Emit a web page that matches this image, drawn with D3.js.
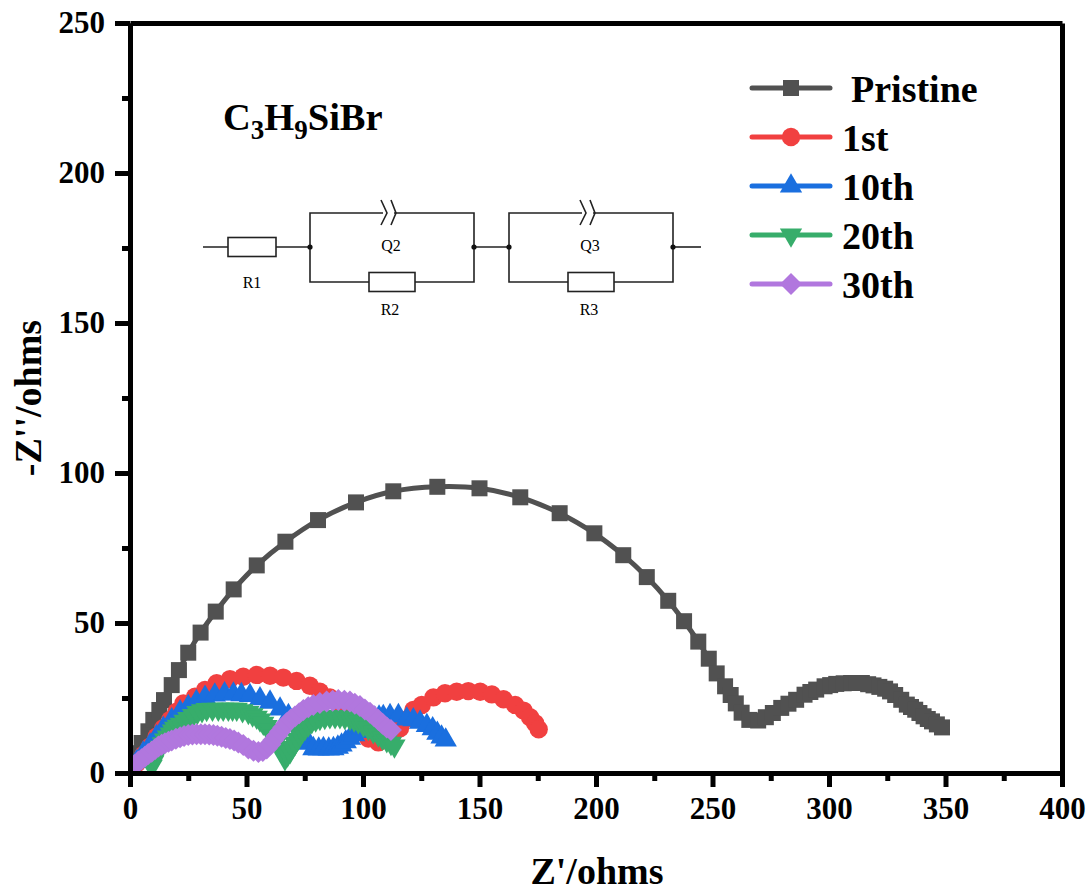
<!DOCTYPE html>
<html>
<head>
<meta charset="utf-8">
<script src="https://cdn.jsdelivr.net/npm/d3@7"></script>
<style>
  html, body { margin: 0; padding: 0; background: #fff; }
  svg { display: block; }
  text { font-family: "Liberation Serif", serif; font-weight: bold; fill: #000; }
</style>
</head>
<body>
<div id="chart"></div>
<script>
var xTicks = [0, 50, 100, 150, 200, 250, 300, 350, 400];
var xMinor = [25, 75, 125, 175, 225, 275, 325, 375];
var yTicks = [0, 50, 100, 150, 200, 250];
var yMinor = [25, 75, 125, 175, 225];

var seriesNames = ["Pristine", "1st", "10th", "20th", "30th"];
var seriesColors = ["#515151", "#F14040", "#1A6FDF", "#37AD6B", "#B177DE"];

var pristineX = [0, 1, 2.9, 5, 7.9, 10, 12.6, 14.6, 17.9, 21, 25, 30.3, 36.8, 44.5, 54.4, 66.7, 80.7, 97, 113, 131.9, 150, 167.5, 184.4, 199.3, 211.7, 221.8, 231,
  237.8, 243.9, 248.4, 251.8, 255.4, 257.8, 260, 262.5, 265.8, 269.6,
  272.9, 275.9, 279.5, 282.6, 285.9, 289.5, 292, 294.5, 298.1, 300.5,
  303.1, 306.3, 309.5, 312, 314.1, 316.8, 319.1, 321.6, 324.1, 326.2,
  328.4, 331, 333.4, 335.2, 337, 338.8, 340.6, 342.4, 344.2, 346.3,
  348.5];
var pristineY = [0.9, 3.3, 6.6, 10, 13.9, 17.7, 21, 24.3, 29.3, 34.3, 40.1, 46.8, 53.8, 61.2, 69.2, 77.1, 84.3, 90.2, 93.9, 95.4, 94.9, 91.9, 86.6, 79.9, 72.6, 65.3, 57.4,
  50.6, 43.8, 38.1, 33.2, 28.9, 26, 23.2, 20.1, 17.7, 17.5,
  18.6, 20, 21.7, 23.1, 24.4, 26.1, 27, 27.8, 28.9, 29.3,
  29.7, 29.9, 30, 30, 30, 29.6, 29.2, 28.7, 28.1, 27.2,
  26, 24.4, 22.8, 22, 21.1, 20, 18.9, 18, 17.2, 16.2,
  15.2];

var firstX = [0.7, 2.9, 5.7, 8.6, 11.4, 14.3, 17.2, 20, 22.9, 27.9, 32.2, 37.2, 42.9, 48.6, 54.4, 60.1, 65.8, 71.5, 77.2, 81.5, 85.8, 90.2, 94.5, 98.8, 102.3, 106.6, 111.6, 115.9, 119.5, 121.6, 125.2, 130.2, 135.2, 140.2, 145.2, 150.3, 155.3, 160.3, 165.3, 168.9, 171.7, 173.9, 175.4];
var firstY = [1, 3.2, 6, 8.8, 12.1, 14.9, 17.7, 20.4, 23.2, 25.4, 27.7, 29.9, 31.3, 32.1, 32.7, 32.4, 31.8, 30.7, 29.1, 27.1, 25.2, 22.7, 18.8, 14.5, 11.5, 10.2, 11.5, 14.9, 18.2, 21, 22.7, 25.2, 26.6, 27.1, 27.3, 27.1, 26.2, 24.6, 22.7, 20.8, 18.6, 16.6, 14.6];

var tenthX = [0.7, 2.9, 5.7, 8.6, 11.4, 14.3, 17.9, 21.5, 25, 28.5,
  32.2, 36.4, 40.6, 44.4, 47.8, 51.5, 55.8, 60.1, 64.4, 68,
  70.8, 73, 75.1, 76.5, 78.7, 81, 83, 85.3, 87.3, 89.2,
  90.8, 92.6, 94.4, 96.2, 98, 99.8, 101.6, 103.4, 105.1, 106.9,
  108.7, 111.6, 115.2, 118.8, 121.6, 124.5, 127.4, 129.9, 131.9, 133.7,
  135.5];
var tenthY = [1.6, 3.8, 6.6, 9.3, 12.1, 14.9, 17.7, 20.4, 22.1, 23.8,
  25.2, 26, 26.4, 26.3, 26.1, 25.8, 24.7, 23.6, 21.3, 19.1,
  16.6, 14.3, 12.1, 9.9, 8.1, 8, 8.1, 8, 8.1, 8.6,
  9.3, 10.4, 11.6, 12.7, 13.8, 14.9, 16, 17.2, 18.2, 18.6,
  18.8, 19.1, 19.1, 18, 17.7, 16.9, 15.8, 14.7, 13.2, 12,
  11];

var twentiethX = [9.3, 10, 10.7, 12, 13.2, 14.1, 15, 16.2, 17.5, 18.4,
  19.3, 20.5, 21.8, 23.4, 25, 27, 28.9, 30.9, 32.9, 35.4,
  37.9, 40, 42.2, 44, 45.8, 48.3, 50.8, 52.6, 54.4, 55.8,
  57.2, 58.6, 60.1, 61.5, 63, 64.7, 66.5, 67.6, 68.7, 69.7,
  70.8, 71.9, 73, 74, 75.1, 76.5, 78, 79.7, 81.5, 83.6,
  85.8, 88, 90.1, 92.2, 94.4, 96.2, 98, 100.2, 102.3, 104.4,
  106.6, 108.4, 110.2, 112, 113.5];
var twentiethY = [2.3, 3.7, 5.2, 6.9, 8.6, 9.8, 11, 12, 13, 14,
  14.9, 15.6, 16.3, 17.3, 18.2, 19.2, 20.2, 20.8, 21.2, 21.3,
  21.3, 21.3, 21.3, 21.3, 21.3, 20.8, 20.2, 19.4, 18.6, 17.7,
  16.6, 15.5, 14.3, 12.4, 10.4, 7.6, 4.8, 6, 7.1, 8.5,
  9.9, 11.3, 12.7, 13.9, 14.9, 16, 17.1, 17.7, 18.2, 18.5,
  18.8, 18.8, 18.8, 18.5, 18.2, 17.7, 17.1, 16, 14.9, 13.8,
  12.7, 11.6, 10.8, 9.9, 9];

var thirtiethX = [0.7, 2, 3.6, 5, 6.4, 7.8, 9.3, 10.8, 12.2, 13.6,
  15, 16.5, 17.9, 19.7, 21.5, 23.2, 25, 26.8, 28.6, 30.4,
  32.2, 34, 35.8, 37.5, 39.3, 41.1, 42.9, 44.7, 46.5, 48.6,
  50.8, 53, 55.1, 57, 58.7, 60.2, 61.5, 63, 64.4, 65.8,
  67.2, 69, 70.8, 72.6, 74.4, 76.5, 78.7, 81.5, 84.4, 87,
  89.4, 92, 94.4, 96.5, 98.7, 100.8, 103, 104.8, 106.6, 108.4,
  110.2, 112];
var thirtiethY = [1.6, 2.7, 3.8, 4.6, 5.4, 6.3, 7.1, 8, 8.8, 9.4,
  9.9, 10.4, 10.8, 11.4, 11.9, 12.3, 12.7, 12.8, 12.9, 12.9,
  12.9, 12.8, 12.7, 12.4, 12.1, 11.7, 11.3, 10.8, 10.2, 9.3,
  8.2, 7.4, 7, 7.3, 8.2, 9.5, 11, 12.4, 13.8, 15.2,
  16.6, 17.8, 18.8, 19.9, 21, 21.9, 22.7, 23.3, 23.8, 24.1,
  24.3, 24.1, 23.8, 23.1, 22.3, 21.2, 20.1, 18.9, 17.7, 16.4,
  15.2, 14.3];

var allX = [pristineX, firstX, tenthX, twentiethX, thirtiethX];
var allY = [pristineY, firstY, tenthY, twentiethY, thirtiethY];

var width = 1091, height = 892;
var left = 130, right = 1062, top_ = 23, bottom = 773;

var svg = d3.select("#chart").append("svg")
    .attr("width", width)
    .attr("height", height);

var x = d3.scaleLinear().domain([0, 400]).range([left, right]);
var y = d3.scaleLinear().domain([0, 250]).range([bottom, top_]);

svg.append("clipPath").attr("id", "plotclip")
  .append("rect")
    .attr("x", left).attr("y", top_)
    .attr("width", right - left).attr("height", bottom - top_);

// one marker per series, same order as seriesNames
var markers = [
  {type: d3.symbolSquare, size: 256, rotate: 0},
  {type: d3.symbolCircle, size: 266, rotate: 0},
  {type: d3.symbolTriangle, size: 215, rotate: 0},
  {type: d3.symbolTriangle, size: 215, rotate: 180},
  {type: d3.symbolSquare, size: 242, rotate: 45}
];

var line = d3.line().curve(d3.curveCatmullRom);

seriesNames.forEach(function(name, s){
  var pts = allX[s].map(function(d, i){ return [x(d), y(allY[s][i])]; });
  var g = svg.append("g").attr("class", "series").attr("clip-path", "url(#plotclip)");

  g.append("path")
      .attr("d", line(pts))
      .attr("fill", "none")
      .attr("stroke", seriesColors[s])
      .attr("stroke-width", 5);

  g.selectAll("path.pt")
      .data(pts)
    .enter().append("path")
      .attr("class", "pt")
      .attr("d", d3.symbol().type(markers[s].type).size(markers[s].size))
      .attr("transform", function(d){
        return "translate(" + d[0] + "," + d[1] + ") rotate(" + markers[s].rotate + ")";
      })
      .attr("fill", seriesColors[s]);
});

// axes
function styleAxis(g, fontSize){
  g.selectAll(".domain").attr("stroke", "#000").attr("stroke-width", 5);
  g.selectAll(".tick line").attr("stroke", "#000").attr("stroke-width", 5);
  g.selectAll(".tick text").style("font-size", fontSize + "px").attr("fill", "#000");
}

var fmt = d3.format("d");

var xAxis = svg.append("g")
    .attr("transform", "translate(0," + bottom + ")")
    .call(d3.axisBottom(x).tickValues(xTicks).tickFormat(fmt).tickSize(14).tickPadding(10).tickSizeOuter(0));
styleAxis(xAxis, 31);

var xMinorAxis = svg.append("g")
    .attr("transform", "translate(0," + bottom + ")")
    .call(d3.axisBottom(x).tickValues(xMinor).tickFormat("").tickSize(8).tickSizeOuter(0));
styleAxis(xMinorAxis, 31);

var yAxis = svg.append("g")
    .attr("transform", "translate(" + left + ",0)")
    .call(d3.axisLeft(y).tickValues(yTicks).tickFormat(fmt).tickSize(15).tickPadding(10).tickSizeOuter(0));
styleAxis(yAxis, 31);

var yMinorAxis = svg.append("g")
    .attr("transform", "translate(" + left + ",0)")
    .call(d3.axisLeft(y).tickValues(yMinor).tickFormat("").tickSize(8).tickSizeOuter(0));
styleAxis(yMinorAxis, 31);

var topAxis = svg.append("g")
    .attr("transform", "translate(0," + top_ + ")")
    .call(d3.axisTop(x).tickValues([]).tickSizeOuter(0));
styleAxis(topAxis, 31);

var rightAxis = svg.append("g")
    .attr("transform", "translate(" + right + ",0)")
    .call(d3.axisRight(y).tickValues([]).tickSizeOuter(0));
styleAxis(rightAxis, 31);

// axis titles
svg.append("text")
    .attr("x", 597).attr("y", 884)
    .attr("text-anchor", "middle")
    .style("font-size", "38px")
    .text("Z'/ohms");

svg.append("text")
    .attr("transform", "translate(41,398) rotate(-90)")
    .attr("text-anchor", "middle")
    .style("font-size", "38px")
    .text("-Z''/ohms");

// legend
var legendRows = [88, 137, 186, 235, 284];
seriesNames.forEach(function(name, s){
  var ly = legendRows[s];
  svg.append("line")
      .attr("x1", 752).attr("x2", 830)
      .attr("y1", ly).attr("y2", ly)
      .attr("stroke", seriesColors[s])
      .attr("stroke-width", 5)
      .attr("stroke-linecap", "round");
  svg.append("path")
      .attr("d", d3.symbol().type(markers[s].type).size(markers[s].size)())
      .attr("transform", "translate(791," + ly + ") rotate(" + markers[s].rotate + ")")
      .attr("fill", seriesColors[s]);
  svg.append("text")
      .attr("x", s == 0 ? 851 : 842)
      .attr("y", ly + 14)
      .style("font-size", "38px")
      .text(name);
});

// compound name
var title = svg.append("text").attr("x", 223).attr("y", 130).style("font-size", "38.5px");
title.append("tspan").text("C");
title.append("tspan").attr("dy", 9).style("font-size", "27px").text("3");
title.append("tspan").attr("dy", -9).text("H");
title.append("tspan").attr("dy", 9).style("font-size", "27px").text("9");
title.append("tspan").attr("dy", -9).text("SiBr");

// equivalent circuit inset
var wy = 247, wTop = 213, wBot = 282;
var circuit = svg.append("g")
    .attr("fill", "none")
    .attr("stroke", "#222")
    .attr("stroke-width", 1.6);

function wire(d){ circuit.append("path").attr("d", d); }

wire("M203," + wy + "H228M276," + wy + "H310");
circuit.append("rect").attr("x", 228).attr("y", wy - 9.5).attr("width", 48).attr("height", 19);

function branch(x0, x1){
  var mid = (x0 + x1) / 2;
  var q = mid - 3;
  wire("M" + x0 + "," + wy + "V" + wTop + "H" + (q - 6) + "M" + (q + 5) + "," + wTop + "H" + x1 + "V" + wBot + "H" + (mid + 23) + "M" + (mid - 23) + "," + wBot + "H" + x0 + "V" + wy);
  circuit.append("rect").attr("x", mid - 23).attr("y", wBot - 9.5).attr("width", 46).attr("height", 19);
  wire("M" + (q - 8) + "," + (wTop - 13) + "L" + (q - 2) + "," + wTop + "L" + (q - 8) + "," + (wTop + 12));
  wire("M" + (q + 2) + "," + (wTop - 13) + "L" + (q + 7) + "," + wTop + "L" + (q + 2) + "," + (wTop + 12));
  [x0, x1].forEach(function(px){
    svg.append("circle").attr("cx", px).attr("cy", wy).attr("r", 2.6).attr("fill", "#111");
  });
}

branch(310, 474);
wire("M474," + wy + "H509");
branch(509, 673);
wire("M673," + wy + "H701");

var circuitLabels = [
  {t: "R1", x: 252, y: 288}, {t: "Q2", x: 391, y: 251}, {t: "R2", x: 390, y: 315},
  {t: "Q3", x: 590, y: 251}, {t: "R3", x: 589, y: 315}
];
svg.selectAll("text.clabel")
    .data(circuitLabels)
  .enter().append("text")
    .attr("class", "clabel")
    .attr("x", function(d){ return d.x; })
    .attr("y", function(d){ return d.y; })
    .attr("text-anchor", "middle")
    .style("font-size", "16px")
    .style("font-weight", "normal")
    .attr("fill", "#333")
    .text(function(d){ return d.t; });
</script>
</body>
</html>
